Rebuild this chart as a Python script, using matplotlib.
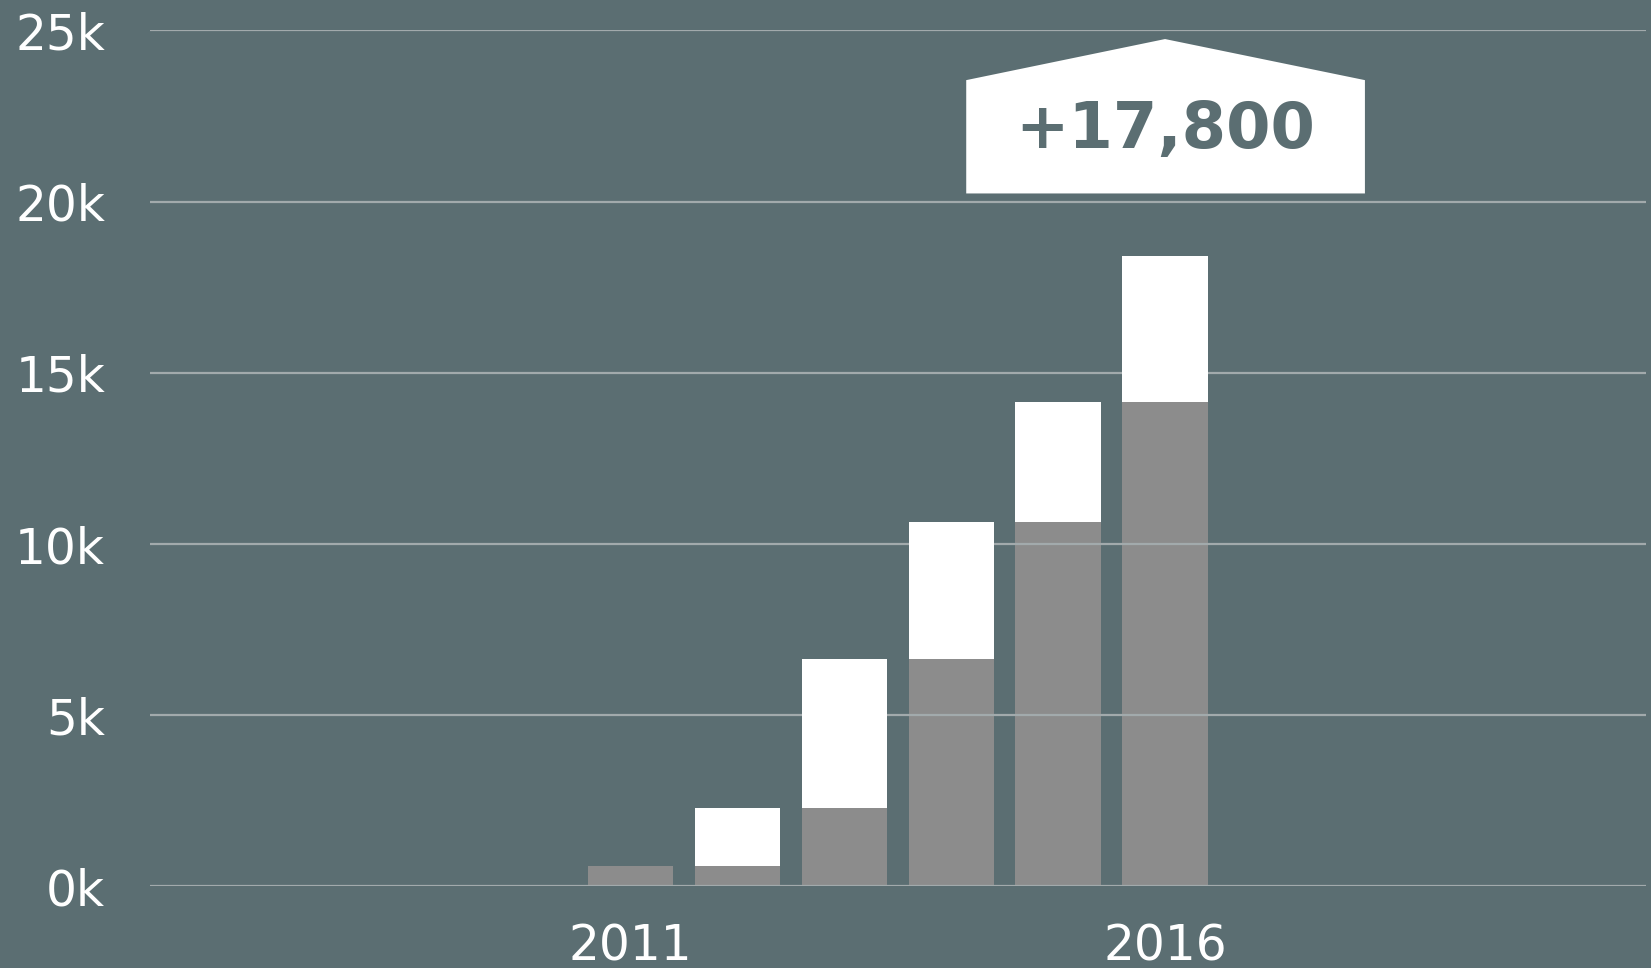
import matplotlib
matplotlib.use("Agg")
import matplotlib.pyplot as plt
from matplotlib.patches import Polygon

years = [2011, 2012, 2013, 2014, 2015, 2016]
existing = [600, 600, 2300, 6650, 10650, 14150]
added = [0, 1700, 4350, 4000, 3500, 4250]
yticks = [0, 5000, 10000, 15000, 20000, 25000]
ytick_labels = ["0k", "5k", "10k", "15k", "20k", "25k"]
xticks = [2011, 2016]
callout_text = "+17,800"

BG = "#5b6e72"
GRAY = "#8c8c8c"
GRID = "#a2aaac"

fig = plt.figure(figsize=(16.51, 9.68), dpi=100, facecolor=BG)
ax = fig.add_axes([0.0906, 0.0843, 0.9064, 0.8842], facecolor=BG)

ax.bar(years, existing, width=0.8, color=GRAY, zorder=1)
ax.bar(years, added, bottom=existing, width=0.8, color="white", zorder=3)

for y in yticks:
    ax.axhline(y, color=GRID, lw=1.6, zorder=2)

ax.set_xlim(2006.5, 2020.5)
ax.set_ylim(0, 25000)
ax.set_yticks(yticks)
ax.set_yticklabels(ytick_labels)
ax.set_xticks(xticks)
ax.set_xticklabels([str(x) for x in xticks])
ax.tick_params(axis="y", length=0, pad=32, labelsize=35, labelcolor="white")
ax.tick_params(axis="x", length=0, pad=26, labelsize=35, labelcolor="white")
for s in ax.spines.values():
    s.set_visible(False)

# callout house-shaped box above final bar
poly = Polygon([(2014.14, 20240), (2014.14, 23550), (2016.0, 24750),
                (2017.87, 23550), (2017.87, 20240)], closed=True,
               facecolor="white", edgecolor="none", zorder=4, clip_on=False)
ax.add_patch(poly)
ax.text(2016.0, 22100, callout_text, ha="center", va="center",
        fontsize=46, fontweight="bold", color=BG, zorder=5)

fig.savefig("out.png", dpi=100, facecolor=BG)
